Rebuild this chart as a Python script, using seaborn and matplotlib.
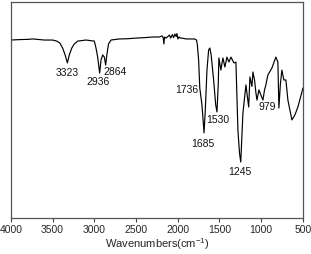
import matplotlib
matplotlib.use("Agg")
import matplotlib.pyplot as plt
import seaborn as sns
import pandas as pd

wavenumber = [4000, 3900, 3800, 3736, 3600, 3500, 3450, 3413, 3380, 3350, 3323, 3300, 3270, 3240, 3200, 3100,
              3000, 2980, 2960, 2936, 2920, 2900, 2880, 2864, 2850, 2830, 2800, 2700, 2600, 2500, 2400, 2300,
              2220, 2190, 2175, 2166, 2158, 2140, 2120, 2100, 2085, 2065, 2050, 2035, 2020, 2010, 1998, 1985,
              1970, 1950, 1900, 1850, 1800, 1775, 1765, 1750, 1736, 1710, 1685, 1670, 1650, 1630, 1615,
              1600, 1570, 1545, 1530, 1515, 1507, 1483, 1459, 1435, 1411, 1387, 1363, 1327, 1303, 1279,
              1260, 1245, 1219, 1183, 1165, 1150, 1135, 1111, 1099, 1080, 1063, 1051, 1027, 1003, 979,
              960, 944, 920, 872, 824, 800, 788, 770, 752, 728, 704, 680, 632, 596, 560, 512, 500]
transmittance = [82.4, 82.6, 82.7, 82.9, 82.4, 82.4, 81.9, 81.0, 78.7, 75.5, 71.8, 75.5, 78.7, 80.6, 81.9, 82.4,
                 81.9, 78.7, 74.5, 67.1, 73.1, 75.5, 74.5, 70.8, 75.5, 80.6, 82.4, 82.9, 83.0, 83.3, 83.5, 83.8,
                 83.8, 84.3, 83.6, 80.6, 83.8, 83.3, 84.0, 84.7, 83.3, 84.9, 83.5, 85.2, 84.0, 85.4, 82.9, 83.8,
                 83.3, 83.3, 82.9, 82.9, 82.9, 82.4, 80.1, 73.1, 60.2, 52.3, 39.4, 50.0, 68.5, 77.8, 78.7,
                 75.5, 63.9, 52.3, 49.1, 61.6, 74.1, 68.5, 74.1, 69.9, 74.5, 72.2, 74.5, 71.8, 72.2, 40.7,
                 30.0, 25.9, 48.6, 61.6, 56.0, 51.4, 65.3, 60.9, 67.6, 63.9, 57.9, 54.6, 59.3, 56.9, 54.6,
                 59.3, 61.6, 66.2, 69.4, 74.5, 72.2, 50.9, 62.0, 68.5, 63.9, 63.9, 54.6, 45.4, 47.7, 51.4, 58.3, 60.2]

peak_labels = ["3323", "2936", "2864", "1736", "1530", "1685", "1245", "979"]
peak_label_x = [3323, 2960, 2750, 1890, 1519, 1699, 1255, 932]
peak_label_y = [67.0, 63.0, 67.6, 59.3, 45.4, 34.3, 21.3, 51.4]

xticks = [4000, 3500, 3000, 2500, 2000, 1500, 1000, 500]

sns.set_style("white")
plt.rcParams['font.family'] = ['Liberation Sans', 'DejaVu Sans']
plt.rcParams['mathtext.default'] = 'regular'

df = pd.DataFrame({"w": wavenumber, "t": transmittance})

fig = plt.figure(figsize=(3.11, 2.54), dpi=100)
ax = fig.add_axes([0.035, 0.142, 0.939, 0.85])
sns.lineplot(data=df, x="w", y="t", ax=ax, color="black", linewidth=0.85, estimator=None)

for lab, lx, ly in zip(peak_labels, peak_label_x, peak_label_y):
    ax.text(lx, ly, lab, ha="center", va="center", fontsize=7.5, color="#111111")

ax.set_xlim(4000, 500)
ax.set_ylim(0, 100)
ax.set_xticks(xticks)
ax.set_xticklabels([str(t) for t in xticks], fontsize=7.5)
ax.set_yticks([])
ax.set_ylabel("")
ax.set_xlabel("Wavenumbers(cm$^{-1}$)", fontsize=8, labelpad=1)
ax.tick_params(axis="x", direction="out", length=3, width=0.8, color="#444444", pad=2, bottom=True)
for s in ax.spines.values():
    s.set_color("#555555")
    s.set_linewidth(0.9)

fig.savefig("out.png", dpi=100)
